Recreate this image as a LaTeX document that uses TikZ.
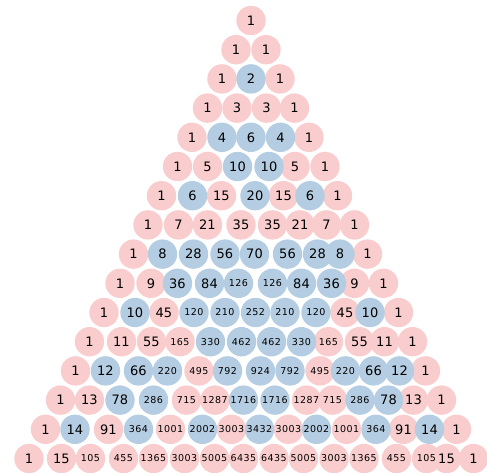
\documentclass[tikz,border=0pt]{standalone}
\usepackage{fontspec}
\setmainfont{DejaVu Sans}
\definecolor{oddpink}{RGB}{249,205,205}
\definecolor{evenblue}{RGB}{180,205,226}
\pgfdeclarelayer{oddlayer}
\pgfdeclarelayer{evenlayer}
\pgfsetlayers{oddlayer,evenlayer,main}

\begin{document}
\begin{tikzpicture}[x=1pt, y=-1pt,
    cell/.style={circle, minimum size=29.4pt, inner sep=0pt, text=black},
    bignum/.style={font=\fontsize{13}{15}\selectfont},
    smallnum/.style={font=\fontsize{9.5}{11}\selectfont\addfontfeature{LetterSpace=5}}]
    % Page frame
    \useasboundingbox (0,0) rectangle (487,472);

    % Rows of the triangle: row / {x position / value}
    \foreach \r/\row in {
        0/{251/1},
        1/{236/1, 266/1},
        2/{222/1, 251/2, 280/1},
        3/{207.5/1, 237/3, 266.5/3, 294.5/1},
        4/{192/1, 222/4, 251/6, 280.5/4, 309/1},
        5/{177.5/1, 207.5/5, 237.5/10, 269/10, 295/5, 325/1},
        6/{161.5/1, 192.5/6, 221.5/15, 255/20, 283.5/15, 310/6, 337.5/1},
        7/{148/1, 178.5/7, 207.5/21, 241/35, 272.5/35, 300/21, 326.5/7, 354.5/1},
        8/{133.5/1, 162.5/8, 193.5/28, 225/56, 254.5/70, 287.5/56, 317.5/28, 340/8, 367.5/1},
        9/{120/1, 151/9, 177.5/36, 209.5/84, 238.5/126, 272.5/126, 301.5/84, 331.5/36, 354.5/9, 383.5/1},
        10/{104/1, 135/10, 164/45, 194/120, 225/210, 255.5/252, 285/210, 316/120, 345/45, 370/10, 398.5/1},
        11/{89.5/1, 121.5/11, 151.5/55, 180/165, 210.5/330, 241.5/462, 271.5/462, 301.5/330, 328.5/165, 359.5/55, 384.5/11, 412.5/1},
        12/{75.5/1, 105.5/12, 138.5/66, 167.5/220, 199/495, 227.5/792, 260.5/924, 290/792, 320/495, 345.5/220, 373.5/66, 399.5/12, 425.5/1},
        13/{60.5/1, 89.5/13, 120/78, 153.5/286, 186.5/715, 215/1287, 243.5/1716, 275/1716, 306.5/1287, 332.5/715, 360/286, 388.5/78, 413.5/13, 441.5/1},
        14/{45.5/1, 75/14, 108.5/91, 138.5/364, 170.5/1001, 202.5/2002, 231.5/3003, 259.5/3432, 288.5/3003, 316.5/2002, 346.5/1001, 376/364, 403.5/91, 429.5/14, 456.5/1},
        15/{29/1, 61.5/15, 90.5/105, 123.5/455, 153.5/1365, 184.5/3003, 214.5/5005, 243.5/6435, 274/6435, 303.5/5005, 334/3003, 364/1365, 396.5/455, 426.5/105, 446.5/15, 473.5/1}%
    }{
        \pgfmathsetmacro{\y}{20.5+29.2*\r}
        \foreach \x/\v [count=\k] in \row {
            \pgfmathtruncatemacro{\odd}{mod(\v,2)}
            \ifnum\v>99 \def\numsize{smallnum}\else\def\numsize{bignum}\fi
            \node[cell, \numsize] (n\r-\k) at (\x,\y) {\v};
            % discs behind the numbers, even ones above odd ones
            \ifnum\odd=1
                \begin{pgfonlayer}{oddlayer}
                    \fill[oddpink] (n\r-\k) circle (14.7pt);
                \end{pgfonlayer}
            \else
                \begin{pgfonlayer}{evenlayer}
                    \fill[evenblue] (n\r-\k) circle (14.7pt);
                \end{pgfonlayer}
            \fi
        }
    }
\end{tikzpicture}
\end{document}
